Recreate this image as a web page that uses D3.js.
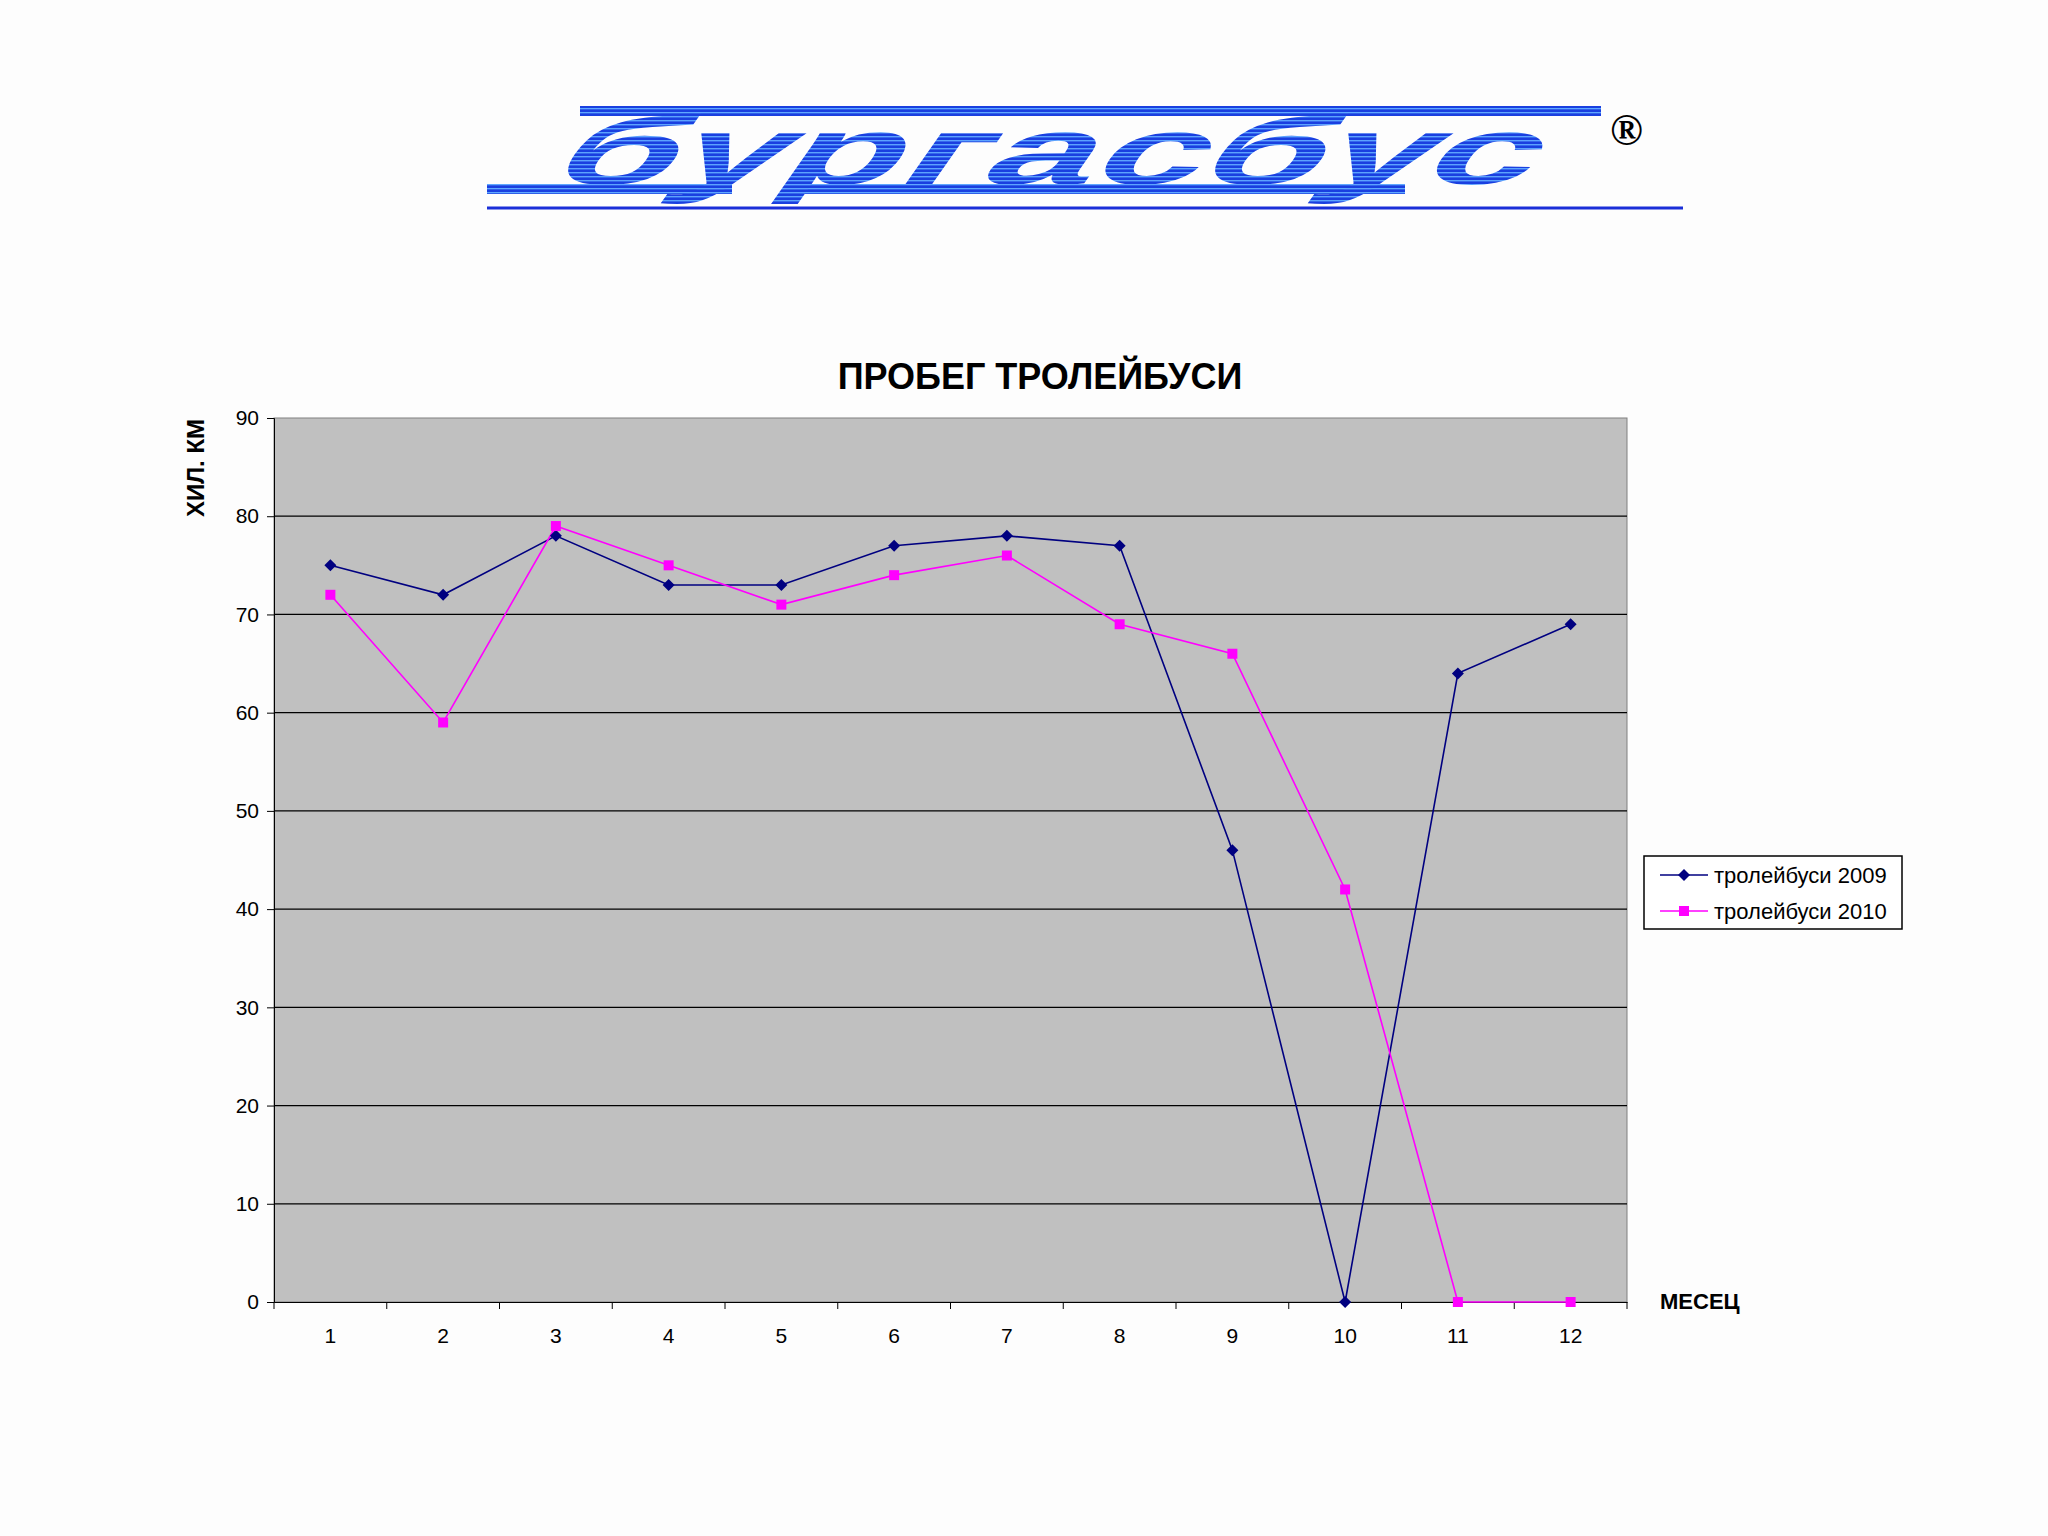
<!DOCTYPE html>
<html><head><meta charset="utf-8">
<script src="https://cdn.jsdelivr.net/npm/d3@7"></script>
<style>body{margin:0;background:#fdfdfd}svg{display:block;font-family:Arial,"Liberation Sans",sans-serif}</style>
</head><body><svg id="c" width="2048" height="1536"></svg>
<script>
const months = [1,2,3,4,5,6,7,8,9,10,11,12];
const s2009 = [75,72,78,73,73,77,78,77,46,0,64,69];
const s2010 = [72,59,79,75,71,74,76,69,66,42,0,0];
const yTicks = [0,10,20,30,40,50,60,70,80,90];
const names = ["тролейбуси 2009","тролейбуси 2010"];

const svg = d3.select("#c");
const L=274,R=1627,T=418,B=1302;
const x = d3.scaleBand().domain(months).range([L,R]);
const y = d3.scaleLinear().domain([0,90]).range([B,T]);

// logo
const defs = svg.append("defs");
const pat = defs.append("pattern").attr("id","st").attr("width",4).attr("height",4).attr("patternUnits","userSpaceOnUse");
pat.append("rect").attr("width",4).attr("height",4).attr("fill","#1a3fe0");
pat.append("rect").attr("width",4).attr("height",1.3).attr("fill","#5fa8ff");
const lg = svg.append("g");
lg.append("rect").attr("x",580).attr("y",106).attr("width",1021).attr("height",10).attr("fill","url(#st)");
lg.append("rect").attr("x",487).attr("y",184).attr("width",245).attr("height",10).attr("fill","url(#st)");
lg.append("rect").attr("x",797).attr("y",184).attr("width",608).attr("height",10).attr("fill","url(#st)");
lg.append("text").attr("transform","translate(545,184) skewX(-35) scale(2.02,1)")
  .attr("font-size",96).attr("font-weight","bold").attr("fill","url(#st)").attr("letter-spacing",1).text("бургасбус");
lg.append("line").attr("x1",487).attr("x2",1683).attr("y1",208).attr("y2",208).attr("stroke","#1a2fd8").attr("stroke-width",3);
lg.append("text").attr("x",1610).attr("y",145).attr("font-size",44).attr("font-family","Times New Roman, Liberation Serif, serif").attr("font-weight","bold").text("®");

// plot
svg.append("rect").attr("x",L).attr("y",T).attr("width",R-L).attr("height",B-T).attr("fill","#c0c0c0").attr("stroke","#808080");
svg.append("g").selectAll("line").data(yTicks.slice(1,-1)).join("line")
  .attr("x1",L).attr("x2",R).attr("y1",d=>y(d)).attr("y2",d=>y(d)).attr("stroke","#000").attr("stroke-width",1.2);

const ya = svg.append("g").attr("transform",`translate(${L},0)`).call(d3.axisLeft(y).tickValues(yTicks).tickSize(7).tickPadding(8));
ya.selectAll("text").attr("font-size",21).attr("font-family","Arial, Liberation Sans");
const xa = svg.append("g").attr("transform",`translate(0,${B})`).call(d3.axisBottom(x).tickSize(0).tickPadding(26));
xa.selectAll("text").attr("font-size",21).attr("font-family","Arial, Liberation Sans");
xa.append("g").selectAll("line").data(months.concat([13])).join("line")
  .attr("x1",(d,i)=>L+i*x.step()).attr("x2",(d,i)=>L+i*x.step()).attr("y1",0).attr("y2",7).attr("stroke","#000");
svg.selectAll(".domain").attr("stroke","#000");

const cx = d=>x(d)+x.bandwidth()/2;
const line = d3.line().x((d,i)=>cx(months[i])).y(d=>y(d));
svg.append("path").datum(s2009).attr("d",line).attr("fill","none").attr("stroke","#000080").attr("stroke-width",1.6);
svg.append("path").datum(s2010).attr("d",line).attr("fill","none").attr("stroke","#ff00ff").attr("stroke-width",1.6);
const dia = "M0,-6L6,0L0,6L-6,0Z";
svg.append("g").selectAll("path").data(s2009).join("path")
  .attr("d",dia).attr("transform",(d,i)=>`translate(${cx(months[i])},${y(d)})`).attr("fill","#000080");
svg.append("g").selectAll("rect").data(s2010).join("rect")
  .attr("x",(d,i)=>cx(months[i])-5).attr("y",d=>y(d)-5).attr("width",10).attr("height",10).attr("fill","#ff00ff");

svg.append("text").attr("x",1040).attr("y",389).attr("text-anchor","middle").attr("font-size",36).attr("font-weight","bold").text("ПРОБЕГ ТРОЛЕЙБУСИ");
svg.append("text").attr("transform","translate(204,468) rotate(-90)").attr("text-anchor","middle").attr("font-size",24).attr("font-weight","bold").text("ХИЛ. КМ");
svg.append("text").attr("x",1660).attr("y",1309).attr("font-size",22).attr("font-weight","bold").text("МЕСЕЦ");

// legend
const lgd = svg.append("g");
lgd.append("rect").attr("x",1644).attr("y",856).attr("width",258).attr("height",73).attr("fill","#fff").attr("stroke","#000").attr("stroke-width",1.5);
[["#000080","d"],["#ff00ff","s"]].forEach((c,i)=>{
  const yy=875+i*36;
  lgd.append("line").attr("x1",1660).attr("x2",1708).attr("y1",yy).attr("y2",yy).attr("stroke",c[0]).attr("stroke-width",1.6);
  if(c[1]==="d") lgd.append("path").attr("d",dia).attr("transform",`translate(1684,${yy})`).attr("fill",c[0]);
  else lgd.append("rect").attr("x",1679).attr("y",yy-5).attr("width",10).attr("height",10).attr("fill",c[0]);
  lgd.append("text").attr("x",1714).attr("y",yy+8).attr("font-size",22).text(names[i]);
});
</script></body></html>
